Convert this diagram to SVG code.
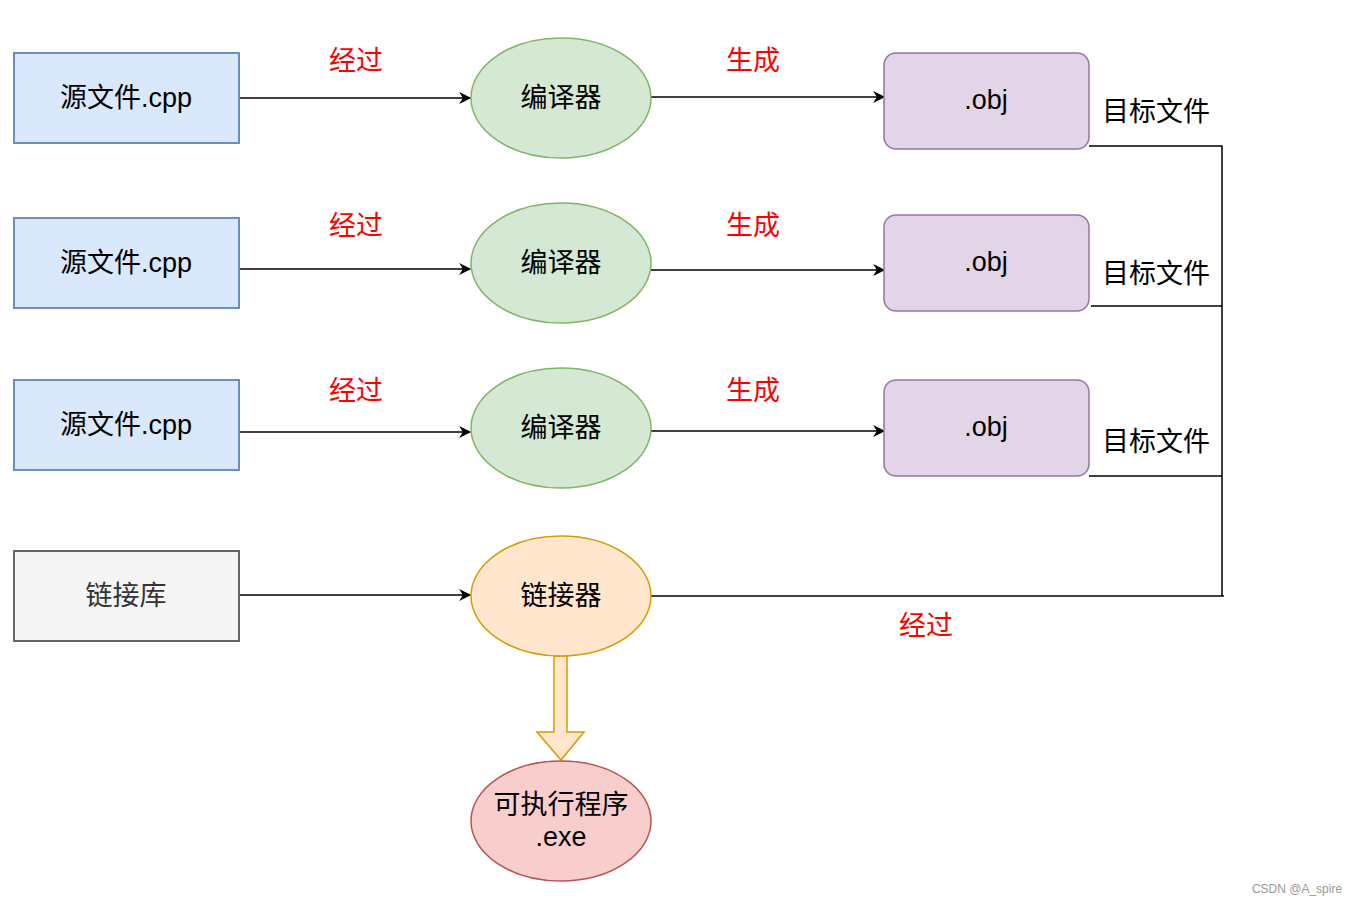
<svg xmlns="http://www.w3.org/2000/svg" width="1357" height="906" viewBox="0 0 1357 906">
<defs>
<marker id="ah" viewBox="0 0 10 10" refX="9" refY="5" markerWidth="13" markerHeight="12" markerUnits="userSpaceOnUse" orient="auto">
<path d="M0,0 L10,5 L0,10 L3,5 Z" fill="#000"/>
</marker>
</defs>
<style>
text{font-family:"Liberation Sans","Noto Sans CJK SC",sans-serif;text-anchor:middle;dominant-baseline:central;}
.src{fill:#dae8fc;stroke:#6c8ebf;stroke-width:2;}
.lib{fill:#f5f5f5;stroke:#666666;stroke-width:2;}
.cmp{fill:#d5e8d4;stroke:#82b366;stroke-width:1.5;}
.lnk{fill:#ffe6cc;stroke:#d79b00;stroke-width:1.5;}
.exe{fill:#f8cecc;stroke:#b85450;stroke-width:1.5;}
.obj{fill:#e1d5e7;stroke:#9673a6;stroke-width:1.5;}
.t{font-size:27px;fill:#000;}
.red{font-size:27px;fill:#ff0000;}
.edge{stroke:#000;stroke-width:1.5;fill:none;}
.ln{stroke:#000;stroke-width:1.5;fill:none;}
</style>
<rect width="1357" height="906" fill="#fff"/>
<g id="connectors">
<line class="edge" x1="238" y1="98" x2="470" y2="98" marker-end="url(#ah)"/>
<line class="edge" x1="238" y1="269" x2="470" y2="269" marker-end="url(#ah)"/>
<line class="edge" x1="238" y1="432" x2="470" y2="432" marker-end="url(#ah)"/>
<line class="edge" x1="238" y1="595" x2="470" y2="595" marker-end="url(#ah)"/>
<line class="edge" x1="651" y1="97" x2="884" y2="97" marker-end="url(#ah)"/>
<line class="edge" x1="651" y1="270" x2="884" y2="270" marker-end="url(#ah)"/>
<line class="edge" x1="651" y1="431" x2="884" y2="431" marker-end="url(#ah)"/>
<polyline class="ln" points="1089,146 1222,146 1222,596"/>
<line class="ln" x1="1091" y1="306" x2="1222" y2="306"/>
<line class="ln" x1="1089" y1="476" x2="1222" y2="476"/>
<line class="ln" x1="651" y1="596" x2="1224" y2="596"/>
<path d="M554,656 L567,656 L567,732 L584,732 L561,760 L537,732 L554,732 Z" fill="#ffe6cc" stroke="#d79b00" stroke-width="1.5"/>
</g>
<g id="labels">
<text class="red" x="356" y="61">经过</text>
<text class="red" x="356" y="226">经过</text>
<text class="red" x="356" y="391">经过</text>
<text class="red" x="753" y="61">生成</text>
<text class="red" x="753" y="226">生成</text>
<text class="red" x="753" y="391">生成</text>
<text class="red" x="926" y="626">经过</text>
<text class="t" x="1156" y="112">目标文件</text>
<text class="t" x="1156" y="274">目标文件</text>
<text class="t" x="1156" y="442">目标文件</text>
</g>
<g id="src1"><rect class="src" x="14" y="53" width="225" height="90"/><text class="t" x="126" y="98">源文件.cpp</text></g>
<g id="src2"><rect class="src" x="14" y="218" width="225" height="90"/><text class="t" x="126" y="263">源文件.cpp</text></g>
<g id="src3"><rect class="src" x="14" y="380" width="225" height="90"/><text class="t" x="126" y="425">源文件.cpp</text></g>
<g id="lib"><rect class="lib" x="14" y="551" width="225" height="90"/><text class="t" x="126" y="596" style="fill:#333">链接库</text></g>
<g id="cmp1"><ellipse class="cmp" cx="561" cy="98" rx="90" ry="60"/><text class="t" x="561" y="98">编译器</text></g>
<g id="cmp2"><ellipse class="cmp" cx="561" cy="263" rx="90" ry="60"/><text class="t" x="561" y="263">编译器</text></g>
<g id="cmp3"><ellipse class="cmp" cx="561" cy="428" rx="90" ry="60"/><text class="t" x="561" y="428">编译器</text></g>
<g id="linker"><ellipse class="lnk" cx="561" cy="596" rx="90" ry="60"/><text class="t" x="561" y="596">链接器</text></g>
<g id="exe"><ellipse class="exe" cx="561" cy="821" rx="90" ry="60"/><text class="t" x="561" y="805">可执行程序</text><text class="t" x="561" y="837">.exe</text></g>
<g id="obj1"><rect class="obj" x="884" y="53" width="205" height="96" rx="12"/><text class="t" x="986" y="100">.obj</text></g>
<g id="obj2"><rect class="obj" x="884" y="215" width="205" height="96" rx="12"/><text class="t" x="986" y="262">.obj</text></g>
<g id="obj3"><rect class="obj" x="884" y="380" width="205" height="96" rx="12"/><text class="t" x="986" y="427">.obj</text></g>
<text x="1297" y="889" style="font-size:12px;fill:#999">CSDN @A_spire</text>
</svg>
